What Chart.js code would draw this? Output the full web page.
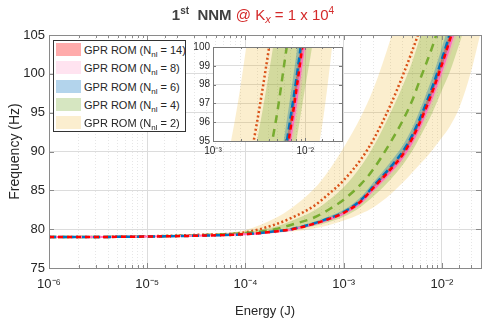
<!DOCTYPE html>
<html>
<head>
<meta charset="utf-8">
<script src="https://cdn.jsdelivr.net/npm/chart.js@4.4.1/dist/chart.umd.min.js"></script>
<style>
  body { margin: 0; background: #fff; font-family: 'Liberation Sans', Arial, sans-serif; }
  #wrap { position: relative; width: 490px; height: 321px; overflow: hidden; }
  #main { position: absolute; left: 0; top: 0; }
  #inset { position: absolute; left: 188px; top: 38px; }
  #title { position: absolute; left: 0; top: 5px; width: 506px; text-align: center;
           font-size: 15px; font-weight: bold; color: #404040; white-space: nowrap; }
  #title sup { font-size: 10px; vertical-align: 6px; }
  #title .red { color: #d42a2a; font-weight: normal; }
  #title sub { font-size: 11px; vertical-align: -3px; }
  #legend { position: absolute; left: 53px; top: 40px; width: 131px; height: 90px;
            background: #fff; border: 1px solid #333; }
  .row { position: absolute; left: 0; height: 18px; width: 131px; font-size: 11px;
         line-height: 18px; color: #262626; white-space: nowrap; }
  .sw { position: absolute; left: 2px; top: 2px; width: 25px; height: 13px; }
  .lab { position: absolute; left: 30px; top: 0; }
  .lab sub { font-size: 8px; vertical-align: -3px; }
</style>
</head>
<body>
<div id="wrap">
  <canvas id="main" width="490" height="321"></canvas>
  <div id="title">1<sup>st</sup>&nbsp; NNM <span class="red">@ K<sub><i>x</i></sub> = 1 x 10<sup>4</sup></span></div>
  <div id="legend"></div>
  <canvas id="inset" width="162" height="125"></canvas>
</div>
<script>
// energy (J) sample points
const energy = [1e-6, 3e-6, 1e-5, 3e-5, 1e-4, 2e-4, 3e-4, 5e-4, 7e-4, 1e-3, 1.5e-3, 2e-3,
                3e-3, 4e-3, 5e-3, 6e-3, 7e-3, 8e-3, 1e-2, 1.2e-2, 1.5e-2, 2e-2, 2.5e-2];

// mean frequency (Hz) per ROM size
const freq14 = [79.0, 79.0, 79.05, 79.15, 79.35, 79.7, 80.0, 80.7, 81.3, 82.1, 83.6, 85.3, 87.7, 89.6, 91.7, 93.8, 95.8, 97.7, 101.2, 104.3, 108.5, 114.5, 119.5];
const freq8  = [79.0, 79.0, 79.05, 79.15, 79.34, 79.68, 79.97, 80.65, 81.25, 82.0, 83.45, 85.1, 87.4, 89.3, 91.3, 93.3, 95.3, 97.1, 100.5, 103.5, 107.6, 113.5, 118.5];
const freq6  = [79.0, 79.0, 79.05, 79.15, 79.36, 79.72, 80.03, 80.75, 81.37, 82.2, 83.75, 85.5, 88.0, 90.0, 92.1, 94.3, 96.4, 98.3, 101.9, 105.1, 109.4, 115.5, 120.5];
const freq4  = [79.0, 79.0, 79.06, 79.2, 79.5, 80.0, 80.6, 81.5, 82.5, 83.8, 85.8, 87.7, 91.2, 94.0, 96.6, 99.3, 101.5, 103.5, 107.3, 110.5, 115.0, 121.0, 127.0];
const freq2  = [79.0, 79.0, 79.08, 79.25, 79.6, 80.6, 81.5, 83.0, 84.5, 86.3, 89.0, 91.5, 96.0, 99.8, 103.0, 105.8, 108.3, 110.5, 114.5, 118.0, 123.0, 130.0, 136.0];

// confidence bands (lower / upper, Hz)
const band14Lo = [79.0, 79.0, 79.05, 79.14, 79.32, 79.64, 79.91, 80.58, 81.15, 81.92, 83.36, 85.0, 87.3, 89.1, 91.15, 93.15, 95.1, 96.9, 100.3, 103.3, 107.3, 113.1, 117.8];
const band14Hi = [79.0, 79.0, 79.05, 79.16, 79.38, 79.76, 80.09, 80.82, 81.45, 82.28, 83.84, 85.6, 88.1, 90.1, 92.25, 94.45, 96.5, 98.5, 102.1, 105.3, 109.7, 115.9, 121.2];
const band8Lo  = [79.0, 79.0, 79.05, 79.13, 79.3, 79.6, 79.85, 80.49, 81.05, 81.76, 83.13, 84.7, 86.88, 88.66, 90.54, 92.42, 94.34, 96.06, 99.3, 102.14, 106.0, 111.58, 116.26];
const band8Hi  = [79.0, 79.0, 79.05, 79.17, 79.38, 79.76, 80.09, 80.81, 81.45, 82.24, 83.77, 85.5, 87.92, 89.94, 92.06, 94.18, 96.26, 98.14, 101.7, 104.86, 109.2, 115.42, 120.74];
const band6Lo  = [79.0, 79.0, 79.05, 79.13, 79.31, 79.62, 79.88, 80.55, 81.12, 81.9, 83.35, 85.0, 87.35, 89.2, 91.15, 93.2, 95.2, 97.0, 100.4, 103.4, 107.4, 113.1, 117.7];
const band6Hi  = [79.0, 79.0, 79.05, 79.17, 79.41, 79.82, 80.18, 80.95, 81.62, 82.5, 84.15, 86.0, 88.65, 90.8, 93.05, 95.4, 97.6, 99.6, 103.4, 106.8, 111.4, 117.9, 123.3];
const band4Lo  = [79.0, 79.0, 79.05, 79.12, 79.3, 79.6, 79.85, 80.4, 80.9, 81.6, 82.9, 84.2, 86.4, 88.3, 90.1, 91.9, 93.5, 95.0, 97.9, 100.2, 103.8, 109.0, 114.0];
const band4Hi  = [79.0, 79.0, 79.07, 79.25, 79.65, 80.3, 81.1, 82.4, 83.7, 85.4, 88.1, 90.6, 95.0, 98.5, 101.6, 104.7, 107.2, 109.5, 113.8, 117.4, 122.5, 129.3, 136.0];
const band2Lo  = [79.0, 79.0, 79.05, 79.12, 79.3, 79.5, 79.7, 80.1, 80.5, 81.1, 82.0, 82.8, 84.5, 86.0, 87.3, 88.4, 89.3, 90.2, 91.8, 93.2, 95.6, 100.5, 105.5];
const band2Hi  = [79.0, 79.0, 79.1, 79.35, 79.9, 81.4, 82.8, 85.2, 87.5, 90.5, 94.5, 98.0, 104.5, 110.0, 115.0, 119.5, 123.5, 127.0, 134.0, 140.0, 148.0, 160.0, 170.0];

const romSizes = ['14', '8', '6', '4', '2'];
const yTicksMain = [75, 80, 85, 90, 95, 100, 105];

const FONT = "'Liberation Sans', Arial, sans-serif";
Chart.defaults.font.family = FONT;
Chart.defaults.color = '#262626';

const SUP = { '-': '\u207B', '0': '\u2070', '1': '\u00B9', '2': '\u00B2', '3': '\u00B3', '4': '\u2074',
              '5': '\u2075', '6': '\u2076', '7': '\u2077', '8': '\u2078', '9': '\u2079' };
function isDecade(v) {
  const e = Math.log10(v);
  return Math.abs(e - Math.round(e)) < 1e-6;
}
function decadeLabel(v) {
  if (!isDecade(v)) return '';
  return '10' + String(Math.round(Math.log10(v))).split('').map(c => SUP[c]).join('');
}
function pts(ys) { return energy.map((e, i) => ({ x: e, y: ys[i] })); }

const bandDefs = [
  { lo: band14Lo, hi: band14Hi, color: 'rgba(255,0,0,0.33)',     swatch: '#ffabab', order: 5 },
  { lo: band8Lo,  hi: band8Hi,  color: 'rgba(255,130,200,0.22)', swatch: '#ffe3f0', order: 6 },
  { lo: band6Lo,  hi: band6Hi,  color: 'rgba(0,114,189,0.3)',    swatch: '#b3d4ec', order: 7 },
  { lo: band4Lo,  hi: band4Hi,  color: 'rgba(119,172,48,0.3)',   swatch: '#d6e6c1', order: 8 },
  { lo: band2Lo,  hi: band2Hi,  color: 'rgba(237,177,32,0.22)',  swatch: '#fbeecf', order: 9 }
];
const lineDefs = [
  { data: freq14, color: '#ff0000', dash: [5, 4], width: 2.5, order: 0 },
  { data: freq8,  color: '#ff6fc0', dash: [],     width: 2,   order: 2 },
  { data: freq6,  color: '#0072bd', dash: [7, 4], width: 2.5, order: 1 },
  { data: freq4,  color: '#77ac30', dash: [8, 6], width: 2.5, order: 3 },
  { data: freq2,  color: '#d95319', dash: [2, 2.5], width: 2.5, order: 4 }
];

function buildDatasets() {
  const ds = [];
  lineDefs.forEach(l => ds.push({
    data: pts(l.data), borderColor: l.color, borderDash: l.dash, borderWidth: l.width,
    pointRadius: 0, fill: false, order: l.order, cubicInterpolationMode: 'monotone'
  }));
  bandDefs.forEach(b => {
    ds.push({ data: pts(b.lo), borderWidth: 0, pointRadius: 0, fill: false, order: b.order,
              cubicInterpolationMode: 'monotone' });
    ds.push({ data: pts(b.hi), borderWidth: 0, pointRadius: 0, fill: '-1', backgroundColor: b.color,
              order: b.order, cubicInterpolationMode: 'monotone' });
  });
  return ds;
}

// box around the axes + inward tick marks, MATLAB style
const axesBox = {
  id: 'axesBox',
  beforeDraw(chart, args, opts) {
    if (!opts.fill) return;
    const a = chart.chartArea;
    chart.ctx.save();
    chart.ctx.fillStyle = opts.fill;
    chart.ctx.fillRect(a.left, a.top, a.right - a.left, a.bottom - a.top);
    chart.ctx.restore();
  },
  afterDatasetsDraw(chart, args, opts) {
    const { ctx, chartArea: a, scales: { x, y } } = chart;
    ctx.save();
    ctx.strokeStyle = opts.color;
    ctx.lineWidth = 1;
    ctx.beginPath();
    x.ticks.forEach(t => {
      if (t.value >= x.max) return;
      const px = Math.round(x.getPixelForValue(t.value)) + 0.5;
      const len = isDecade(t.value) ? opts.major : opts.minor;
      ctx.moveTo(px, a.bottom); ctx.lineTo(px, a.bottom - len);
      ctx.moveTo(px, a.top); ctx.lineTo(px, a.top + len);
    });
    y.ticks.forEach(t => {
      const py = Math.round(y.getPixelForValue(t.value)) + 0.5;
      ctx.moveTo(a.left, py); ctx.lineTo(a.left + opts.major, py);
      ctx.moveTo(a.right, py); ctx.lineTo(a.right - opts.major, py);
    });
    ctx.stroke();
    ctx.strokeRect(Math.round(a.left) + 0.5, Math.round(a.top) + 0.5,
                   Math.round(a.right - a.left), Math.round(a.bottom - a.top));
    ctx.restore();
  }
};

function xScale(min, max, fontSize, pad, height) {
  return {
    type: 'logarithmic', min: min, max: max,
    afterFit: s => { s.height = height; },
    ticks: { autoSkip: false, maxRotation: 0, padding: pad, font: { size: fontSize },
             callback: v => decadeLabel(v) },
    grid: { drawTicks: false, lineWidth: 1,
            color: c => (c.tick && isDecade(c.tick.value)) ? '#dcdcdc' : '#e6e6e6' },
    border: { display: false, dash: c => (c.tick && !isDecade(c.tick.value)) ? [1, 2] : [] }
  };
}

new Chart(document.getElementById('main'), {
  type: 'line',
  data: { datasets: buildDatasets() },
  options: {
    responsive: false, animation: false,
    layout: { padding: { top: 35, right: 3, left: 0, bottom: 0 } },
    plugins: { legend: { display: false }, tooltip: { enabled: false },
               axesBox: { color: '#8a8a8a', major: 5, minor: 3 } },
    scales: {
      x: Object.assign(xScale(1e-6, 0.025, 13, 9, 53), {
        title: { display: true, text: 'Energy (J)', font: { size: 13 }, padding: { top: 0, bottom: 2 } }
      }),
      y: {
        min: 75, max: 105,
        afterFit: s => { s.width = 49; },
        afterBuildTicks: s => { s.ticks = yTicksMain.map(v => ({ value: v })); },
        ticks: { padding: 4, font: { size: 13 } },
        grid: { drawTicks: false, color: '#dcdcdc' },
        border: { display: false },
        title: { display: true, text: 'Frequency (Hz)', font: { size: 14 }, padding: { top: 7, bottom: 0 } }
      }
    }
  },
  plugins: [axesBox]
});

new Chart(document.getElementById('inset'), {
  type: 'line',
  data: { datasets: buildDatasets() },
  options: {
    responsive: false, animation: false,
    layout: { padding: { top: 6, right: 8, left: 0, bottom: 0 } },
    plugins: { legend: { display: false }, tooltip: { enabled: false },
               axesBox: { color: '#7a7a7a', major: 3, minor: 2, fill: '#ffffff' } },
    scales: {
      x: xScale(1e-3, 0.025, 10, 4, 22),
      y: {
        min: 95, max: 100,
        afterFit: s => { s.width = 25; },
        ticks: { stepSize: 1, padding: 3, font: { size: 10 } },
        grid: { drawTicks: false, color: '#dcdcdc' },
        border: { display: false }
      }
    }
  },
  plugins: [axesBox]
});

// legend with subscripted labels
const legend = document.getElementById('legend');
romSizes.forEach((n, i) => {
  const row = document.createElement('div');
  row.className = 'row';
  row.style.top = (i * 18.3) + 'px';
  row.innerHTML = '<span class="sw" style="background:' + bandDefs[i].swatch + '"></span>' +
                  '<span class="lab">GPR ROM (N<sub>nl</sub> = ' + n + ')</span>';
  legend.appendChild(row);
});
</script>
</body>
</html>
